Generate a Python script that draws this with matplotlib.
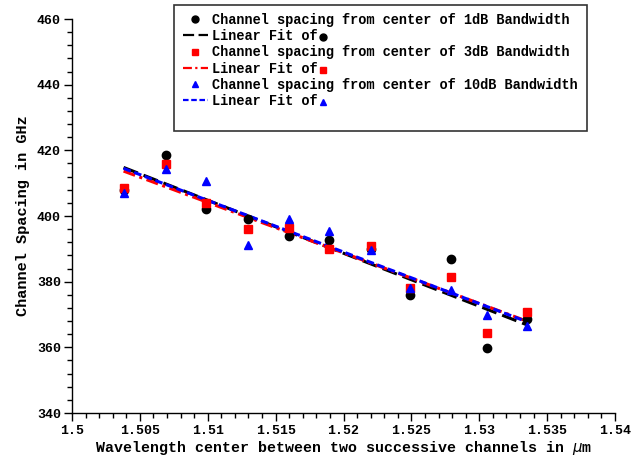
import numpy as np
import matplotlib
matplotlib.use("Agg")
import matplotlib.pyplot as plt
from matplotlib.lines import Line2D
from matplotlib.patches import Rectangle
from matplotlib.ticker import MultipleLocator, FixedFormatter, FixedLocator

wavelength = [1.5038, 1.5069, 1.5099, 1.5130, 1.5160, 1.5189, 1.5220, 1.5249, 1.5279, 1.5306, 1.5335]
spacing_1db = [408.0, 418.7, 402.0, 399.2, 394.0, 392.7, 389.8, 375.9, 386.8, 359.9, 368.5]
spacing_3db = [408.6, 415.8, 403.9, 395.9, 396.3, 389.8, 390.9, 378.0, 381.5, 364.3, 370.7]
spacing_10db = [406.9, 414.2, 410.8, 391.1, 399.1, 395.5, 389.6, 378.2, 377.5, 369.8, 366.5]
x_ticks = [1.5, 1.505, 1.51, 1.515, 1.52, 1.525, 1.53, 1.535, 1.54]
x_tick_labels = ["1.5", "1.505", "1.51", "1.515", "1.52", "1.525", "1.53", "1.535", "1.54"]
y_ticks = [340, 360, 380, 400, 420, 440, 460]
labels = ["Channel spacing from center of 1dB Bandwidth",
          "Linear Fit of",
          "Channel spacing from center of 3dB Bandwidth",
          "Linear Fit of",
          "Channel spacing from center of 10dB Bandwidth",
          "Linear Fit of"]

FONT = "Liberation Mono"
W, H = 644, 458
fig = plt.figure(figsize=(W / 100, H / 100), dpi=100)
ax = fig.add_axes([72 / W, 1 - 413 / H, (615 - 72) / W, (413 - 19) / H])

x = np.array(wavelength)
series = [
    (spacing_1db, "black", "o", 6, (0, (5, 2))),
    (spacing_3db, "#ff0000", "s", 5.5, (0, (4, 1.5, 1, 1.5))),
    (spacing_10db, "#0000ff", "^", 5.5, (0, (2.5, 1.2))),
]
handles = []
for vals, col, mk, ms, ls in series:
    y = np.array(vals)
    p = np.polyfit(x, y, 1)
    xf = np.array([x.min(), x.max()])
    ax.plot(xf, np.polyval(p, xf), color=col, lw=2.2, linestyle=ls, zorder=2)
for vals, col, mk, ms, ls in series:
    ax.plot(x, vals, linestyle="none", marker=mk, color=col, markersize=ms, zorder=3)
for vals, col, mk, ms, ls in series:
    handles.append(Line2D([], [], linestyle="none", marker=mk, color=col, markersize=5))
    handles.append(Line2D([], [], color=col, lw=1.6, linestyle=ls))

ax.set_xlim(1.5, 1.54)
ax.set_ylim(340, 460)
ax.xaxis.set_major_locator(FixedLocator(x_ticks))
ax.xaxis.set_major_formatter(FixedFormatter(x_tick_labels))
ax.xaxis.set_minor_locator(MultipleLocator(0.001))
ax.yaxis.set_major_locator(FixedLocator(y_ticks))
ax.yaxis.set_minor_locator(MultipleLocator(4))
for s in ["top", "right"]:
    ax.spines[s].set_visible(False)
for s in ["left", "bottom"]:
    ax.spines[s].set_linewidth(1.0)
ax.tick_params(which="major", direction="out", length=6, width=1, labelsize=9.5, pad=2)
ax.tick_params(axis="x", which="major", pad=3)
ax.tick_params(which="minor", direction="out", length=3.5, width=1)
for lab in ax.get_xticklabels() + ax.get_yticklabels():
    lab.set_fontfamily(FONT)
    lab.set_fontweight("bold")

ax.set_xlabel("Wavelength center between two successive channels in $\\mu$m",
              fontfamily=FONT, fontweight="bold", fontsize=10.8, labelpad=1)
ax.set_ylabel("Channel Spacing in GHz", fontfamily=FONT, fontweight="bold",
              fontsize=11, labelpad=5)

# legend frame
fig.add_artist(Rectangle((174 / W, 1 - 131 / H), (587 - 174) / W, (131 - 5) / H,
                         transform=fig.transFigure, facecolor="white",
                         edgecolor="#333333", lw=1.2, zorder=4))
leg = fig.legend(handles, labels, loc="upper left",
                 bbox_to_anchor=(183 / W, 1 - 13 / H), frameon=False,
                 prop={"family": FONT, "weight": "bold", "size": 9.8},
                 handlelength=1.8, handletextpad=0.3, labelspacing=0.16,
                 borderpad=0, borderaxespad=0)
leg.set_zorder(5)

fig.canvas.draw()
r = fig.canvas.get_renderer()
extra = [("o", "black"), ("s", "#ff0000"), ("^", "#0000ff")]
texts = leg.get_texts()
for i, (mk, col) in enumerate(extra):
    t = texts[2 * i + 1]
    bb = t.get_window_extent(r)
    xm = bb.x1 + 6
    ym = (bb.y0 + bb.y1) / 2 - 1
    fig.add_artist(Line2D([xm / W], [ym / H], transform=fig.transFigure,
                          linestyle="none", marker=mk, color=col,
                          markersize=5, zorder=6))

fig.savefig("out.png", dpi=100)
